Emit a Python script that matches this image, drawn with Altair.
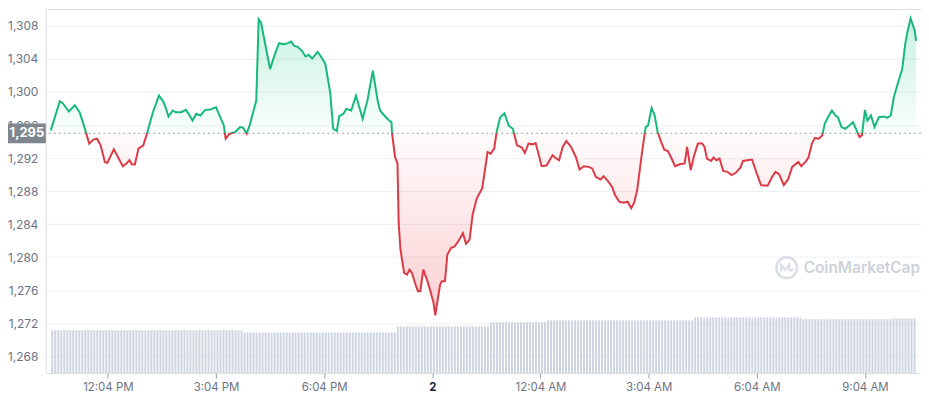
import altair as alt
import pandas as pd

# ---------------- data ----------------
# minutes after the window start (10:29 AM), price in USD
minutes = [0, 15, 20, 30, 40, 48, 56, 64, 71, 77, 83, 90, 94, 105, 113, 120, 126, 131, 135, 140,
           146, 154, 160, 170, 180, 187, 191, 196, 203, 208, 217, 225, 230, 236, 242, 249, 257, 266, 275, 282,
           288, 291, 298, 307, 315, 320, 326, 331, 339, 342, 346, 350, 358, 365, 373, 380, 388, 395, 400, 405,
           411, 418, 424, 429, 435, 444, 450, 457, 465, 470, 476, 480, 487, 492, 500, 508, 519, 527, 536, 544,
           548, 555, 563, 567, 568, 573, 577, 579, 582, 588, 593, 597, 601, 607, 611, 615, 620, 626, 631, 637,
           640, 644, 648, 651, 656, 660, 666, 672, 678, 686, 691, 697, 702, 709, 718, 727, 732, 738, 742, 748,
           755, 762, 769, 776, 784, 789, 795, 802, 807, 817, 825, 835, 840, 846, 852, 858, 866, 874, 880, 887,
           895, 901, 907, 915, 920, 927, 934, 939, 946, 953, 960, 966, 971, 976, 983, 990, 994, 1000, 1005, 1010,
           1016, 1021, 1027, 1032, 1039, 1047, 1055, 1059, 1065, 1070, 1077, 1084, 1088, 1092, 1099, 1103, 1108, 1113, 1119, 1126,
           1133, 1140, 1148, 1152, 1159, 1167, 1175, 1182, 1193, 1200, 1206, 1212, 1220, 1227, 1234, 1244, 1249, 1256, 1261, 1267,
           1272, 1278, 1284, 1288, 1295, 1300, 1306, 1310, 1316, 1322, 1329, 1335, 1340, 1346, 1350, 1355, 1359, 1365, 1371, 1378,
           1387, 1392, 1398, 1403, 1411, 1417, 1422, 1426, 1431, 1438, 1440]

prices = [1295.35, 1298.88, 1298.64, 1297.64, 1298.40, 1297.55, 1295.75, 1293.75, 1294.23, 1294.35,
          1293.54, 1291.53, 1291.41, 1293.06, 1291.94, 1291.01, 1291.34, 1291.74, 1291.25, 1291.22,
          1293.14, 1293.54, 1294.95, 1297.55, 1299.57, 1298.88, 1298.16, 1297.04, 1297.76, 1297.55,
          1297.55, 1297.84, 1297.28, 1296.55, 1297.36, 1297.16, 1297.84, 1297.88, 1298.16, 1296.95,
          1295.95, 1294.35, 1294.95, 1295.15, 1295.75, 1295.68, 1294.95, 1295.95, 1298.16, 1298.96,
          1308.81, 1308.40, 1305.39, 1302.78, 1304.59, 1305.92, 1305.80, 1305.92, 1306.11, 1305.59,
          1305.47, 1304.99, 1304.30, 1304.51, 1304.06, 1304.87, 1304.27, 1303.39, 1299.96, 1295.55,
          1295.27, 1297.04, 1297.36, 1297.96, 1297.76, 1299.57, 1296.76, 1298.96, 1302.58, 1298.96,
          1297.76, 1297.16, 1296.55, 1296.35, 1294.95, 1292.13, 1291.34, 1284.11, 1280.89, 1278.08,
          1277.88, 1278.48, 1278.08, 1276.68, 1275.87, 1275.87, 1278.48, 1277.28, 1276.07, 1274.47,
          1272.94, 1274.87, 1276.68, 1277.07, 1277.07, 1280.29, 1281.10, 1281.29, 1281.89, 1282.90,
          1281.61, 1282.10, 1285.11, 1287.12, 1288.33, 1292.74, 1292.54, 1293.14, 1295.15, 1296.95,
          1297.43, 1295.95, 1295.55, 1293.54, 1293.27, 1292.61, 1293.75, 1293.66, 1293.82, 1291.01,
          1291.10, 1292.34, 1292.01, 1291.74, 1293.34, 1294.06, 1293.34, 1292.13, 1290.61, 1291.01,
          1290.93, 1290.74, 1289.72, 1289.41, 1289.81, 1289.24, 1288.52, 1287.52, 1286.71, 1286.59,
          1286.71, 1285.92, 1286.59, 1288.12, 1292.13, 1295.75, 1295.95, 1298.08, 1297.16, 1295.15,
          1293.94, 1293.02, 1292.86, 1292.13, 1291.01, 1291.25, 1291.34, 1293.34, 1290.53, 1292.13,
          1293.75, 1293.75, 1293.34, 1291.94, 1291.65, 1292.06, 1291.74, 1291.94, 1290.45, 1290.33,
          1289.93, 1290.21, 1290.86, 1291.65, 1291.74, 1291.82, 1290.13, 1288.72, 1288.64, 1289.65,
          1290.33, 1290.05, 1288.72, 1289.41, 1290.93, 1291.53, 1291.01, 1291.53, 1292.06, 1293.82,
          1294.45, 1294.33, 1294.75, 1296.16, 1297.16, 1297.76, 1297.16, 1296.95, 1295.75, 1295.55,
          1295.95, 1296.35, 1295.55, 1294.54, 1294.75, 1297.84, 1296.55, 1297.16, 1295.75, 1296.95,
          1297.04, 1296.88, 1297.16, 1299.36, 1301.37, 1302.78, 1305.80, 1307.40, 1308.93, 1307.40,
          1306.19]

BASELINE = 1295  # opening price of the window
TAG_HALF = 1.2   # half height of the price tag, in price units

# volume bars (5-minute bars, 288 in total), given as runs of (bar count, relative volume)
vol_counts = [64, 51, 31, 19, 49, 36, 30, 8]
vol_levels = [1.00, 0.95, 1.09, 1.19, 1.23, 1.30, 1.26, 1.28]

y_ticks = [1268, 1272, 1276, 1280, 1284, 1288, 1292, 1296, 1300, 1304, 1308]
x_tick_minutes = [95, 275, 455, 635, 815, 995, 1175, 1355]
x_tick_labels = ["12:04 PM", "3:04 PM", "6:04 PM", "2", "12:04 AM", "3:04 AM", "6:04 AM", "9:04 AM"]

# ---------------- frames ----------------
df = pd.DataFrame({"t": minutes, "price": prices})
df["base"] = BASELINE
tag = pd.DataFrame({"base": [BASELINE], "hi": [BASELINE + TAG_HALF], "lo": [BASELINE - TAG_HALF],
                    "label": ["{:,}".format(BASELINE)]})

vol = []
for n, v in zip(vol_counts, vol_levels):
    vol += [v] * n
vdf = pd.DataFrame({"t": [i * 5 + 2.5 for i in range(len(vol))], "volume": vol})

W, H = 880, 366
Y_DOMAIN = [1265.95, 1310.05]
GREEN = "#16b979"
RED = "#dc3b45"

pmax, pmin = max(prices), min(prices)
off = (pmax - BASELINE) / (pmax - pmin)

line_grad = alt.Gradient(
    gradient="linear", x1=0, x2=0, y1=0, y2=1,
    stops=[alt.GradientStop(color=GREEN, offset=0),
           alt.GradientStop(color=GREEN, offset=off),
           alt.GradientStop(color=RED, offset=off),
           alt.GradientStop(color=RED, offset=1)])
fill_grad = alt.Gradient(
    gradient="linear", x1=0, x2=0, y1=0, y2=1,
    stops=[alt.GradientStop(color="rgba(22,199,132,0.24)", offset=0),
           alt.GradientStop(color="rgba(22,199,132,0.02)", offset=off),
           alt.GradientStop(color="rgba(234,57,67,0.02)", offset=off),
           alt.GradientStop(color="rgba(234,57,67,0.24)", offset=1)])

label_expr = "[" + ",".join("'%s'" % s for s in x_tick_labels) + "][round((datum.value - 95) / 180)]"

x_scale = alt.Scale(domain=[0, 1440], nice=False, zero=False)
x_axis = alt.Axis(values=x_tick_minutes, labelExpr=label_expr, grid=False, domain=False,
                  tickSize=5, tickColor="#9aa0aa", labelPadding=4, labelFontSize=11.5,
                  labelColor=alt.condition("datum.value == 635", alt.value("#222531"), alt.value("#6b7383")),
                  labelFontWeight=alt.condition("datum.value == 635", alt.value("bold"), alt.value("normal")))
y_scale = alt.Scale(domain=Y_DOMAIN, nice=False, zero=False)
y_axis = alt.Axis(orient="left", values=y_ticks, format=",", grid=True, gridColor="#eceff3",
                  domain=True, domainColor="#e6e9ee", ticks=False, labelPadding=8,
                  labelOverlap=False, labelFontSize=12, labelColor="#6b7383")

X = alt.X("t:Q", title=None, scale=x_scale, axis=x_axis)
Y = alt.Y("price:Q", title=None, scale=y_scale, axis=y_axis)

area = alt.Chart(df).mark_area(color=fill_grad, interpolate="linear").encode(
    x=X, y=Y, y2="base:Q")

rule = alt.Chart(tag).mark_rule(color="#9aa0aa", strokeDash=[2, 3], strokeWidth=1).encode(
    y=alt.Y("base:Q", title=None, scale=y_scale, axis=y_axis))

line = alt.Chart(df).mark_line(stroke=line_grad, strokeWidth=2, interpolate="linear").encode(
    x=X, y=Y)

# current-price tag on the left axis
box = alt.Chart(tag).mark_rect(color="#80868f").encode(
    x=alt.value(-38), x2=alt.value(0),
    y=alt.Y("hi:Q", title=None, scale=y_scale, axis=y_axis), y2="lo:Q")

box_text = alt.Chart(tag).mark_text(color="white", fontWeight="bold", fontSize=13,
                                    align="center", baseline="middle").encode(
    x=alt.value(-19), y=alt.Y("base:Q", title=None, scale=y_scale, axis=y_axis), text="label:N")

wm_logo = alt.Chart(tag).mark_point(shape="circle", size=441, filled=False, strokeWidth=2.5,
                                    color="#cdd1d8").encode(x=alt.value(745), y=alt.value(260))
wm_m = alt.Chart(tag).mark_point(shape="M-0.55,0.35 L-0.55,-0.3 L-0.12,0.22 L0.25,-0.3 L0.25,0.18 Q0.35,0.42 0.62,0.15",
                                 size=400, filled=False, strokeWidth=2.2, color="#cdd1d8").encode(
    x=alt.value(745), y=alt.value(260))
wm_text = alt.Chart(tag).mark_text(text="CoinMarketCap", color="#cdd1d8", fontSize=15.5, fontWeight=600,
                                   align="left", baseline="middle").encode(x=alt.value(762), y=alt.value(260))

price_layers = alt.layer(area, rule, line, box, box_text, wm_logo, wm_m, wm_text)

vol_bars = alt.Chart(vdf).mark_bar(size=2, color="#cfd5df").encode(
    x=X,
    y=alt.Y("volume:Q", title=None, scale=alt.Scale(domain=[0, H / 43.0], nice=False), axis=None))

chart = alt.layer(vol_bars, price_layers).resolve_scale(y="independent").properties(
    width=W, height=H,
    autosize=alt.AutoSizeParams(type="none"),
    padding={"left": 38, "top": 0, "right": 0, "bottom": 26},
).configure_view(stroke=None).configure_axis(labelOverlap=False).configure(font="Inter")

chart.save("out.html", embed_options={"renderer": "svg", "actions": False})
